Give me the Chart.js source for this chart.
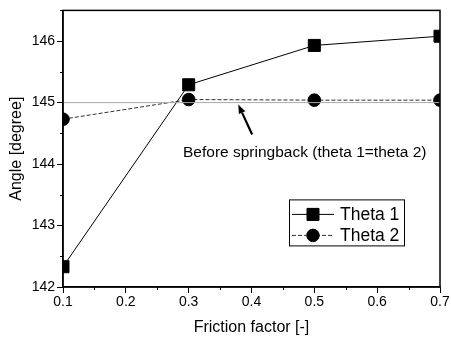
<!DOCTYPE html>
<html>
<head>
<meta charset="utf-8">
<script src="https://cdn.jsdelivr.net/npm/chart.js@4.4.1/dist/chart.umd.min.js"></script>
<style>
  html, body { margin: 0; padding: 0; background: #fff; }
  canvas { display: block; }
</style>
</head>
<body>
<canvas id="chart" width="451" height="342"></canvas>
<script>
const frictionFactor = [0.1, 0.3, 0.5, 0.7];
const theta1 = [142.33, 145.29, 145.93, 146.08];
const theta2 = [144.73, 145.05, 145.04, 145.04];
const beforeSpringback = 145;

const xTicks = [0.1, 0.2, 0.3, 0.4, 0.5, 0.6, 0.7];
const xMinorTicks = [0.15, 0.25, 0.35, 0.45, 0.55, 0.65];
const yTicks = [142, 143, 144, 145, 146];
const yMinorTicks = [142.5, 143.5, 144.5, 145.5, 146.5];

const noteText = 'Before springback (theta 1=theta 2)';
const noteAt = { x: 0.291, y: 144.18 };
const arrowFrom = { x: 0.401, y: 144.48 };
const arrowTo = { x: 0.379, y: 144.97 };

const FONT = "'Liberation Sans', Arial, sans-serif";

const toPoints = (xs, ys) => xs.map((x, i) => ({ x: x, y: ys[i] }));

// frame on top/right plus the small in-between ticks
const framePlugin = {
  id: 'frame',
  afterDatasetsDraw(chart) {
    const { ctx, chartArea: a, scales } = chart;
    ctx.save();
    ctx.strokeStyle = '#000';
    ctx.lineWidth = 1.5;
    ctx.strokeRect(a.left, a.top, a.right - a.left, a.bottom - a.top);
    ctx.lineWidth = 1;
    ctx.beginPath();
    xMinorTicks.forEach(v => {
      const px = Math.round(scales.x.getPixelForValue(v)) + 0.5;
      ctx.moveTo(px, a.bottom);
      ctx.lineTo(px, a.bottom + 3);
    });
    yMinorTicks.forEach(v => {
      const py = Math.round(scales.y.getPixelForValue(v)) + 0.5;
      ctx.moveTo(a.left - 3, py);
      ctx.lineTo(a.left, py);
    });
    ctx.stroke();
    ctx.restore();
  }
};

// text label with arrow pointing at the reference line
const notePlugin = {
  id: 'note',
  afterDatasetsDraw(chart) {
    const { ctx, scales } = chart;
    const x = scales.x, y = scales.y;
    const x0 = x.getPixelForValue(arrowFrom.x), y0 = y.getPixelForValue(arrowFrom.y);
    const x1 = x.getPixelForValue(arrowTo.x), y1 = y.getPixelForValue(arrowTo.y);
    const ang = Math.atan2(y1 - y0, x1 - x0);
    const head = 9, wing = 3.5;
    const bx = x1 - head * Math.cos(ang), by = y1 - head * Math.sin(ang);
    ctx.save();
    ctx.strokeStyle = '#000';
    ctx.fillStyle = '#000';
    ctx.lineWidth = 2.2;
    ctx.beginPath();
    ctx.moveTo(x0, y0);
    ctx.lineTo(bx, by);
    ctx.stroke();
    ctx.beginPath();
    ctx.moveTo(x1, y1);
    ctx.lineTo(bx + wing * Math.sin(ang), by - wing * Math.cos(ang));
    ctx.lineTo(bx - wing * Math.sin(ang), by + wing * Math.cos(ang));
    ctx.closePath();
    ctx.fill();

    ctx.font = '15.5px ' + FONT;
    ctx.textAlign = 'left';
    ctx.textBaseline = 'middle';
    ctx.fillText(noteText, x.getPixelForValue(noteAt.x), y.getPixelForValue(noteAt.y));
    ctx.restore();
  }
};

// boxed legend sitting inside the plot area
const boxLegendPlugin = {
  id: 'boxLegend',
  afterDatasetsDraw(chart, args, opts) {
    const { ctx, chartArea: a } = chart;
    const items = chart.data.datasets.filter(d => d.label);
    const left = a.right - opts.right - opts.width;
    const top = a.top + opts.top;
    ctx.save();
    ctx.fillStyle = '#fff';
    ctx.fillRect(left, top, opts.width, opts.height);
    ctx.strokeStyle = '#000';
    ctx.lineWidth = 1;
    ctx.strokeRect(left + 0.5, top + 0.5, opts.width, opts.height);
    items.forEach((d, i) => {
      const cy = top + opts.firstRow + i * opts.rowGap;
      ctx.strokeStyle = d.borderColor;
      ctx.lineWidth = d.borderWidth;
      ctx.setLineDash(d.borderDash || []);
      ctx.beginPath();
      ctx.moveTo(left + 3, cy);
      ctx.lineTo(left + 45, cy);
      ctx.stroke();
      ctx.setLineDash([]);
      ctx.fillStyle = '#000';
      Chart.helpers.drawPoint(ctx, {
        pointStyle: d.pointStyle, radius: d.pointRadius, borderWidth: 1, rotation: 0
      }, left + 24, cy);
      ctx.fill();
      ctx.font = '17.5px ' + FONT;
      ctx.textBaseline = 'middle';
      ctx.fillText(d.label, left + 51, cy + 1);
    });
    ctx.restore();
  }
};

new Chart(document.getElementById('chart'), {
  type: 'scatter',
  data: {
    datasets: [
      {
        data: toPoints([0.1, 0.7], [beforeSpringback, beforeSpringback]),
        showLine: true,
        borderColor: '#a8a8a8',
        borderWidth: 1,
        pointRadius: 0,
        clip: 0
      },
      {
        label: 'Theta 1',
        data: toPoints(frictionFactor, theta1),
        showLine: true,
        borderColor: '#000',
        borderWidth: 1,
        pointStyle: 'rect',
        pointRadius: 8.5,
        backgroundColor: '#000',
        pointBorderColor: '#000',
        clip: 0
      },
      {
        label: 'Theta 2',
        data: toPoints(frictionFactor, theta2),
        showLine: true,
        borderColor: '#333',
        borderWidth: 1,
        borderDash: [4, 2],
        pointStyle: 'circle',
        pointRadius: 6.3,
        backgroundColor: '#000',
        pointBorderColor: '#000',
        clip: 0
      }
    ]
  },
  options: {
    responsive: false,
    animation: false,
    layout: { padding: { top: 8, right: 11, left: 0, bottom: 0 } },
    plugins: {
      legend: { display: false },
      tooltip: { enabled: false },
      boxLegend: { right: 36, top: 189, width: 115, height: 46, firstRow: 15, rowGap: 21 }
    },
    scales: {
      x: {
        type: 'linear',
        min: 0.1,
        max: 0.7,
        afterBuildTicks: s => { s.ticks = xTicks.map(v => ({ value: v })); },
        afterFit: s => { s.height = 55; },
        ticks: {
          color: '#000',
          font: { family: FONT, size: 14 },
          padding: 1,
          maxRotation: 0,
          callback: v => v.toFixed(1)
        },
        grid: { drawOnChartArea: false, color: '#000', tickLength: 6, lineWidth: 1 },
        border: { color: '#000', width: 1.5 },
        title: {
          display: true,
          text: 'Friction factor [-]',
          color: '#000',
          font: { family: FONT, size: 16 },
          padding: { top: 0, bottom: 5 }
        }
      },
      y: {
        min: 142,
        max: 146.5,
        afterBuildTicks: s => { s.ticks = yTicks.map(v => ({ value: v })); },
        afterFit: s => { s.width = 63; },
        ticks: {
          color: '#000',
          font: { family: FONT, size: 14 },
          padding: 2,
          callback: v => String(v)
        },
        grid: { drawOnChartArea: false, color: '#000', tickLength: 6, lineWidth: 1 },
        border: { color: '#000', width: 1.5 },
        title: {
          display: true,
          text: 'Angle [degree]',
          color: '#000',
          font: { family: FONT, size: 16 },
          padding: { top: 7, bottom: 0 }
        }
      }
    }
  },
  plugins: [framePlugin, notePlugin, boxLegendPlugin]
});
</script>
</body>
</html>
